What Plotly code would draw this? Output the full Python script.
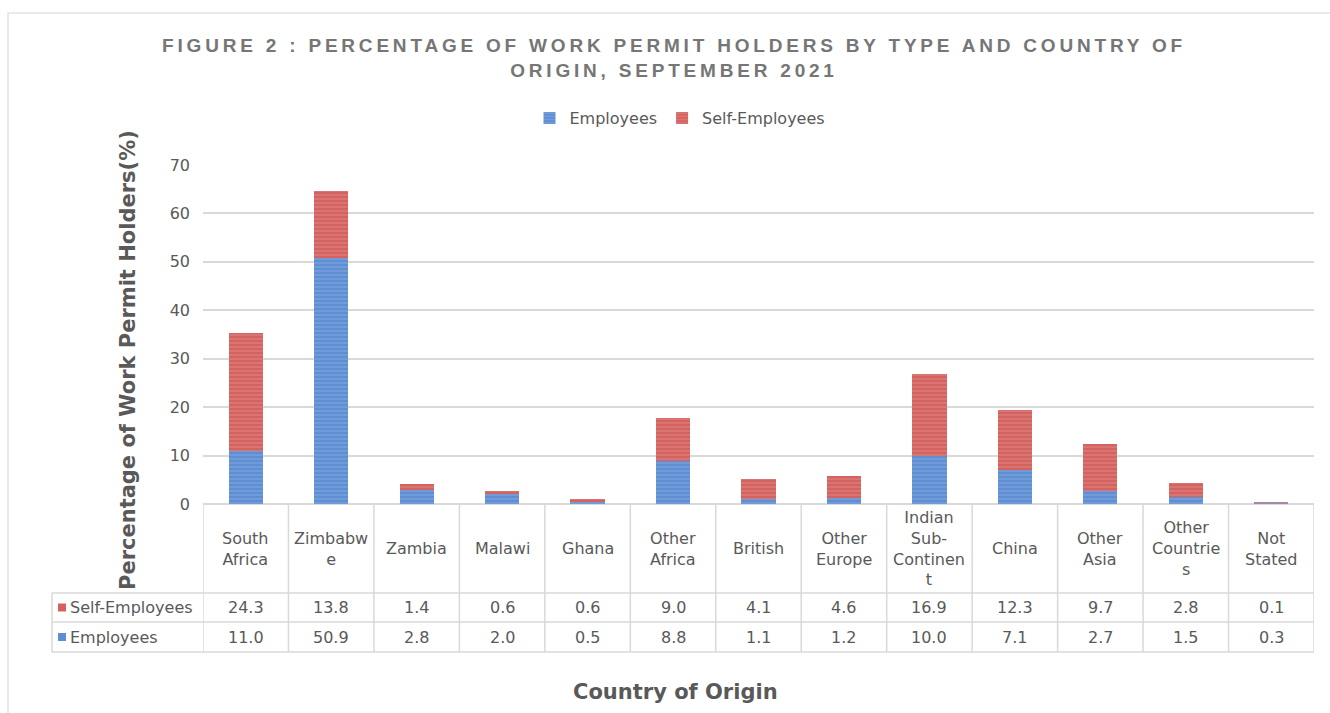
import plotly.graph_objects as go

categories = ["South Africa", "Zimbabwe", "Zambia", "Malawi", "Ghana", "Other Africa",
              "British", "Other Europe", "Indian Sub-Continent", "China", "Other Asia",
              "Other Countries", "Not Stated"]
header_labels = ["South<br>Africa", "Zimbabw<br>e", "Zambia", "Malawi", "Ghana", "Other<br>Africa",
                 "British", "Other<br>Europe", "Indian<br>Sub-<br>Continen<br>t", "China", "Other<br>Asia",
                 "Other<br>Countrie<br>s", "Not<br>Stated"]
employees = [11.0, 50.9, 2.8, 2.0, 0.5, 8.8, 1.1, 1.2, 10.0, 7.1, 2.7, 1.5, 0.3]
self_employees = [24.3, 13.8, 1.4, 0.6, 0.6, 9.0, 4.1, 4.6, 16.9, 12.3, 9.7, 2.8, 0.1]
y_ticks = [0, 10, 20, 30, 40, 50, 60, 70]

W, H = 1330, 713
L, R, T, B = 203, 1314, 165, 504


def X(px):
    return (px - L) / (R - L)


def Y(py):
    return (B - py) / (B - T)


BLUE = "#5f8fd3"
BLUE_L = "#8fb1e3"
RED = "#d4625f"
RED_L = "#e59593"
GRID = "#d9d9d9"
TXT = "#595959"
FONT = "DejaVu Sans"

fig = go.Figure()
fig.add_trace(go.Bar(
    name="Employees", x=categories, y=employees,
    marker=dict(color=BLUE, line=dict(width=0),
                pattern=dict(shape="-", fgcolor=BLUE_L, bgcolor=BLUE, size=4, solidity=0.35)),
    width=0.4,
))
fig.add_trace(go.Bar(
    name="Self-Employees", x=categories, y=self_employees,
    marker=dict(color=RED, line=dict(width=0),
                pattern=dict(shape="-", fgcolor=RED_L, bgcolor=RED, size=4, solidity=0.35)),
    width=0.4,
))

shapes = []
annotations = []
n = len(categories)

# outer frame
shapes.append(dict(type="rect", xref="paper", yref="paper", x0=X(8), x1=X(1340), y0=Y(13), y1=Y(730),
                   line=dict(color="#e3e3e3", width=1.5), layer="below"))

# table grid
row_lines = [593, 622, 652]
for py in row_lines:
    shapes.append(dict(type="line", xref="paper", yref="paper", x0=X(52), x1=1, y0=Y(py), y1=Y(py),
                       line=dict(color=GRID, width=1.5)))
shapes.append(dict(type="line", xref="paper", yref="paper", x0=X(52), x1=X(52), y0=Y(593), y1=Y(652),
                   line=dict(color=GRID, width=1.5)))
for i in range(n + 1):
    shapes.append(dict(type="line", xref="x", yref="paper", x0=i - 0.5, x1=i - 0.5, y0=0, y1=Y(652),
                       line=dict(color=GRID, width=1.5)))

TFONT = dict(family=FONT, size=16, color=TXT)

# table header labels and values
for i in range(n):
    annotations.append(dict(x=categories[i], xref="x", y=Y(548.5), yref="paper", text=header_labels[i],
                            showarrow=False, font=TFONT,
                            xanchor="center", yanchor="middle", align="center"))
    annotations.append(dict(x=categories[i], xref="x", y=Y(607.5), yref="paper", text=f"{self_employees[i]:.1f}",
                            showarrow=False, font=TFONT,
                            xanchor="center", yanchor="middle"))
    annotations.append(dict(x=categories[i], xref="x", y=Y(637), yref="paper", text=f"{employees[i]:.1f}",
                            showarrow=False, font=TFONT,
                            xanchor="center", yanchor="middle"))

# legend keys in table
for py, name, col in [(607.5, "Self-Employees", RED), (637, "Employees", BLUE)]:
    shapes.append(dict(type="rect", xref="paper", yref="paper", x0=X(58), x1=X(66), y0=Y(py + 4), y1=Y(py - 4),
                       fillcolor=col, line=dict(width=0)))
    annotations.append(dict(x=X(68), xref="paper", y=Y(py), yref="paper", text=name, showarrow=False,
                            font=TFONT, xanchor="left", yanchor="middle"))

# axis titles
annotations.append(dict(x=X(128), xref="paper", y=Y(360), yref="paper",
                        text="<b>Percentage of Work Permit Holders(%)</b>", textangle=-90, showarrow=False,
                        font=dict(family=FONT, size=21, color=TXT), xanchor="center", yanchor="middle"))
annotations.append(dict(x=X(675), xref="paper", y=Y(692), yref="paper",
                        text="<b>Country of Origin</b>", showarrow=False,
                        font=dict(family=FONT, size=21, color=TXT), xanchor="center", yanchor="middle"))

fig.update_layout(
    width=W, height=H, autosize=False,
    margin=dict(l=L, r=W - R, t=T, b=H - B),
    paper_bgcolor="white", plot_bgcolor="white",
    barmode="stack", bargap=0.6,
    title=dict(
        text='<span style="letter-spacing:3.8px"><b>FIGURE 2 : PERCENTAGE OF WORK PERMIT HOLDERS BY TYPE AND COUNTRY OF<br>ORIGIN, SEPTEMBER 2021</b></span>',
        x=674 / W, xanchor="center", y=1 - 52 / H, yanchor="middle",
        font=dict(family="Liberation Sans", size=19, color="#767676"),
    ),
    showlegend=True,
    legend=dict(orientation="h", x=X(680), xanchor="center", y=Y(118), yanchor="middle",
                font=dict(family=FONT, size=16, color=TXT), itemwidth=30, traceorder="normal",
                bgcolor="rgba(0,0,0,0)"),
    xaxis=dict(showticklabels=False, showgrid=False, zeroline=False, showline=False, ticks="",
               range=[-0.5, n - 0.5], fixedrange=True),
    yaxis=dict(range=[0, 70], tickvals=y_ticks, showgrid=True, gridcolor=GRID, gridwidth=1.5,
               zeroline=True, zerolinecolor=GRID, zerolinewidth=1.5, showline=False, ticks="",
               tickfont=dict(family=FONT, size=16, color=TXT), ticklabelstandoff=12),
    shapes=shapes, annotations=annotations,
)

fig.write_html("out.html", config={"displayModeBar": False},
               post_script="document.body.style.margin='0';")
